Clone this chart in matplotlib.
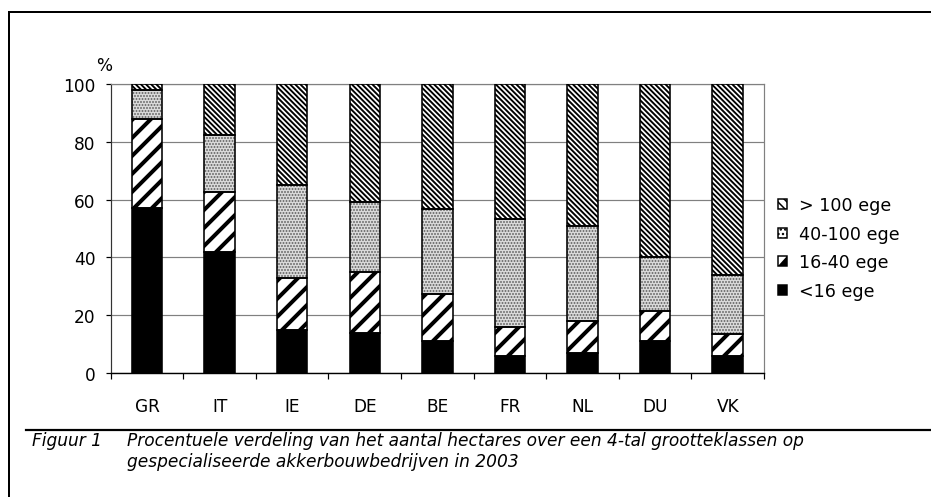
import matplotlib
matplotlib.use("Agg")
import matplotlib.pyplot as plt
from matplotlib.lines import Line2D
from matplotlib.patches import Patch, Rectangle, Polygon
from matplotlib.legend_handler import HandlerBase
import numpy as np

# data (percent of hectares per size class)
countries = ["GR", "IT", "IE", "DE", "BE", "FR", "NL", "DU", "VK"]
lt16 = [57.0, 41.7, 15.0, 13.7, 10.9, 5.8, 7.0, 11.1, 5.8]
c16_40 = [31.0, 21.0, 17.7, 21.1, 16.6, 10.2, 11.1, 10.4, 7.6]
c40_100 = [9.8, 19.8, 32.5, 24.4, 29.1, 37.2, 32.6, 18.5, 20.5]
gt100 = [2.2, 17.5, 34.8, 40.8, 43.4, 46.8, 49.3, 60.0, 66.1]
labels = ["<16 ege", "16-40 ege", "40-100 ege", "> 100 ege"]
yticks = [0, 20, 40, 60, 80, 100]
caption_nr = "Figuur 1"
caption_1 = "Procentuele verdeling van het aantal hectares over een 4-tal grootteklassen op"
caption_2 = "gespecialiseerde akkerbouwbedrijven in 2003"

DPI = 108
W, H = 931, 498


def pt(px):
    return px * 72.0 / DPI


plt.rcParams["font.family"] = "DejaVu Sans"

# style per class: facecolor, hatch, hatch colour, hatch linewidth (px)
styles = [
    ("black", None, "black", 1),
    ("white", "//", "black", 4.0),
    ("#d9d9d9", "......", "#5a5a5a", 1.2),
    ("white", "\\\\\\\\\\\\\\", "black", 1.9),
]
series = [lt16, c16_40, c40_100, gt100]


class HalfSquare(HandlerBase):
    # legend key for 16-40: square, lower-right half black
    def create_artists(self, legend, orig_handle, xd, yd, w, h, fontsize, trans):
        x0, y0 = -xd, -yd
        sq = Rectangle((x0, y0), w, h, facecolor="white", edgecolor="black",
                       linewidth=pt(1.5), transform=trans)
        tri = Polygon([[x0, y0], [x0 + w, y0], [x0 + w, y0 + h]], closed=True,
                      facecolor="black", edgecolor="none", transform=trans)
        return [sq, tri]


fig = plt.figure(figsize=(W / DPI, H / DPI), dpi=DPI)
ax = fig.add_axes([110.7 / W, 1 - 374 / H, (764 - 110.7) / W, (374 - 85) / H])

x = np.arange(len(countries))
width = 0.42
bottom = np.zeros(len(countries))
for vals, (fc, hatch, hc, hlw) in zip(series, styles):
    vals = np.array(vals)
    with plt.rc_context({"hatch.linewidth": pt(hlw)}):
        bars = ax.bar(x, vals, width, bottom=bottom, color=fc, hatch=hatch,
                      edgecolor=hc, linewidth=0, zorder=3)
    for b in bars:
        if hasattr(b, "set_hatch_linewidth"):
            b.set_hatch_linewidth(pt(hlw))
    ax.bar(x, vals, width, bottom=bottom, fill=False, edgecolor="black",
           linewidth=pt(1.6), zorder=4)
    bottom += vals

ax.set_xlim(-0.5, len(countries) - 0.5)
ax.set_ylim(0, 100)
ax.set_yticks(yticks)
ax.set_yticklabels([str(v) for v in yticks])
ax.yaxis.grid(True, color="#808080", linewidth=pt(1.2), zorder=0)
ax.set_axisbelow(True)

ax.set_xticks(x)
ax.set_xticklabels(countries)
ax.set_xticks(np.arange(len(countries) + 1) - 0.5, minor=True)
ax.tick_params(axis="x", which="major", length=0, pad=pt(24), labelsize=pt(17))
ax.tick_params(axis="x", which="minor", length=pt(6), width=pt(1.2), direction="out")
ax.tick_params(axis="y", length=pt(5), width=pt(1.2), pad=pt(10), labelsize=pt(17))

for s in ["top", "right"]:
    ax.spines[s].set_color("#808080")
    ax.spines[s].set_linewidth(pt(1.2))
ax.spines["left"].set_color("#333333")
ax.spines["left"].set_linewidth(pt(1.2))
ax.spines["bottom"].set_color("black")
ax.spines["bottom"].set_linewidth(pt(1.4))

fig.text(104 / W, 1 - 66 / H, "%", ha="center", va="center", fontsize=pt(17))

# legend (top class first)
handles = [
    Patch(facecolor="black", edgecolor="black", linewidth=pt(1.5)),
    Patch(facecolor="white", edgecolor="black"),
    Patch(facecolor="white", hatch="....", edgecolor="black", linewidth=pt(1.5)),
    Patch(facecolor="white", hatch="\\\\\\\\", edgecolor="black", linewidth=pt(1.5)),
]
leg = fig.legend(handles[::-1], labels[::-1], loc="center left",
                 bbox_to_anchor=(778 / W, 1 - 249 / H), frameon=False,
                 fontsize=pt(17.5), handlelength=0.5, handleheight=0.5,
                 handletextpad=0.7, labelspacing=0.6, borderpad=0, borderaxespad=0,
                 handler_map={handles[1]: HalfSquare()})

# outer frame and caption rule
fig.add_artist(Line2D([9 / W, 9 / W], [0, 1 - 13 / H], color="black",
                      linewidth=pt(2), transform=fig.transFigure))
fig.add_artist(Line2D([9 / W, 1], [1 - 13 / H, 1 - 13 / H], color="black",
                      linewidth=pt(2), transform=fig.transFigure))
fig.add_artist(Line2D([26 / W, 1], [1 - 431 / H, 1 - 431 / H], color="black",
                      linewidth=pt(2.2), transform=fig.transFigure))

fig.text(32 / W, 1 - 446 / H, caption_nr, ha="left", va="baseline",
         fontsize=pt(17), style="italic")
fig.text(127 / W, 1 - 446 / H, caption_1, ha="left", va="baseline",
         fontsize=pt(17), style="italic")
fig.text(127 / W, 1 - 467 / H, caption_2, ha="left", va="baseline",
         fontsize=pt(17), style="italic")

fig.savefig("out.png", dpi=DPI, facecolor="white")
